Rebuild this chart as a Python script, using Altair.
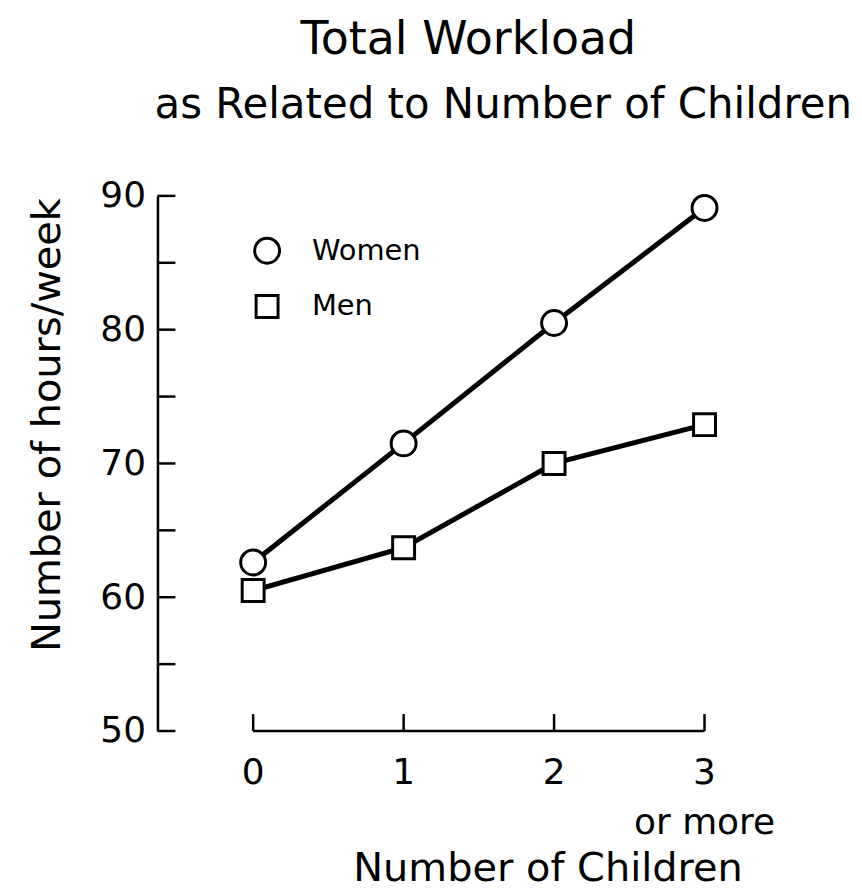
import altair as alt
import pandas as pd

# ---- data ----
children = [0, 1, 2, 3]
women_hours = [62.6, 71.5, 80.5, 89.1]
men_hours = [60.5, 63.7, 70.0, 72.9]
series_names = ["Women", "Men"]
series_shapes = ["circle", "square"]
series_sizes = [625, 484]
y_tick_values = [50, 55, 60, 65, 70, 75, 80, 85, 90]
y_label_values = [50, 60, 70, 80, 90]
x_tick_labels = ["0", "1", "2", "3\nor more"]
title_lines = ["Total Workload", "as Related to Number of Children"]
x_title = "Number of Children"
y_title = "Number of hours/week"

W, H = 549, 537
FONT = "DejaVu Sans"

df = pd.DataFrame({
    "children": children * 2,
    "hours": women_hours + men_hours,
    "series": [series_names[0]] * len(children) + [series_names[1]] * len(children),
})

xscale = alt.Scale(domain=[-0.636, 3.0], nice=False, zero=False)
yscale = alt.Scale(domain=[50, 90], nice=False, zero=False)
shape_scale = alt.Scale(domain=series_names, range=series_shapes)
size_scale = alt.Scale(domain=series_names, range=series_sizes)

yaxis = alt.Axis(values=y_label_values, domain=True, domainColor="black", domainWidth=2.5,
                 ticks=False, tickSize=0, labelFontSize=36, labelFont=FONT, labelColor="black",
                 labelPadding=12, grid=False, title=None)

X = alt.X("children:Q", scale=xscale, axis=None)
Y = alt.Y("hours:Q", scale=yscale, axis=yaxis)

lines = alt.Chart(df).mark_line(color="black", strokeWidth=5).encode(
    x=X, y=Y, detail="series:N")

points = alt.Chart(df).mark_point(filled=True, fill="white", stroke="black",
                                  strokeWidth=3, opacity=1).encode(
    x=X, y=Y,
    shape=alt.Shape("series:N", scale=shape_scale, legend=None),
    size=alt.Size("series:N", scale=size_scale, legend=None),
)

# inward y ticks
ytick_df = pd.DataFrame({"v": y_tick_values})
yticks = alt.Chart(ytick_df).mark_rule(color="black", strokeWidth=2.5).encode(
    y=alt.Y("v:Q", scale=yscale), x=alt.value(0), x2=alt.value(18))

# x axis baseline and upward ticks
xbase_df = pd.DataFrame({"a": [min(children)], "b": [max(children)]})
xbase = alt.Chart(xbase_df).mark_rule(color="black", strokeWidth=2.5).encode(
    x=alt.X("a:Q", scale=xscale), x2="b:Q", y=alt.value(H))
xtick_df = pd.DataFrame({"c": children, "label": x_tick_labels})
xticks = alt.Chart(xtick_df).mark_rule(color="black", strokeWidth=2.5).encode(
    x=alt.X("c:Q", scale=xscale), y=alt.value(H), y2=alt.value(H - 17))
xlabels = alt.Chart(xtick_df).mark_text(
    font=FONT, fontSize=36, color="black", baseline="alphabetic", align="center",
    lineBreak="\n", lineHeight=50).encode(
    x=alt.X("c:Q", scale=xscale), y=alt.value(H + 53), text="label:N")

def label(text, x, y, size, angle=0):
    return alt.Chart(pd.DataFrame({"t": [text]})).mark_text(
        font=FONT, fontSize=size, color="black", align="center",
        baseline="alphabetic", angle=angle).encode(
        x=alt.value(x), y=alt.value(y), text="t:N")

titles = [label(title_lines[0], 312, -142, 46), label(title_lines[1], 347, -78, 42)]
xt = label(x_title, 392, 688, 40)
yt = label(y_title, -98, 230, 40, angle=270)

# legend
legend_layers = []
for i, name in enumerate(series_names):
    ldf = pd.DataFrame({"series": [name]})
    legend_layers.append(
        alt.Chart(ldf).mark_point(filled=True, fill="white", stroke="black",
                                  strokeWidth=3, opacity=1).encode(
            x=alt.value(110), y=alt.value(55 + 56 * i),
            shape=alt.Shape("series:N", scale=shape_scale, legend=None),
            size=alt.Size("series:N", scale=size_scale, legend=None)))
    legend_layers.append(
        alt.Chart(ldf).mark_text(font=FONT, fontSize=29, color="black", align="left",
                                 baseline="middle").encode(
            x=alt.value(155), y=alt.value(55 + 56 * i), text="series:N"))

chart = alt.layer(
    lines, points, yticks, xbase, xticks, xlabels, xt, yt, *titles, *legend_layers
).properties(
    width=W, height=H,
    autosize=alt.AutoSizeParams(type="none"),
    padding={"left": 150, "top": 187, "right": 150, "bottom": 162},
).configure_view(stroke=None)

chart.save("out.html", embed_options={"renderer": "svg", "actions": False})
